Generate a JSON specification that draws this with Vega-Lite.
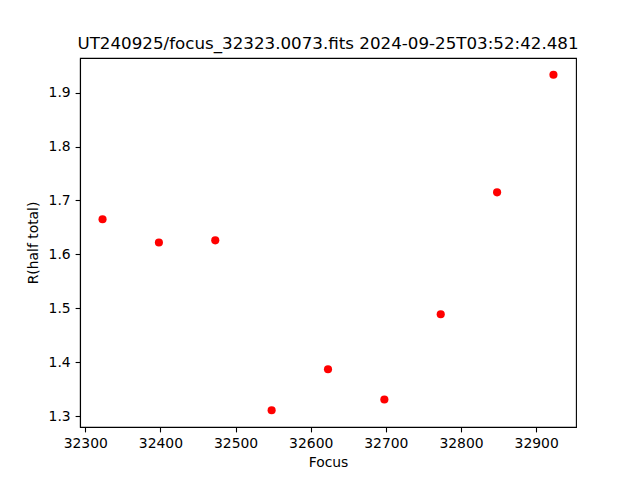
{
  "$schema": "https://vega.github.io/schema/vega-lite/v6.json",
  "autosize": "none",
  "width": 496,
  "height": 369,
  "padding": {"left": 80, "top": 58, "right": 64, "bottom": 53},
  "background": "white",
  "title": {
    "text": "UT240925/focus_32323.0073.fits 2024-09-25T03:52:42.481",
    "font": "DejaVu Sans",
    "fontSize": 16.7,
    "fontWeight": "normal",
    "color": "black",
    "anchor": "middle",
    "frame": "group",
    "offset": 5
  },
  "config": {
    "view": {"stroke": "black", "strokeWidth": 1.1},
    "axis": {
      "grid": false,
      "domainColor": "black",
      "domainWidth": 1.1,
      "tickColor": "black",
      "tickWidth": 1.1,
      "tickSize": 4.9,
      "labelPadding": 4.9,
      "labelFont": "DejaVu Sans",
      "labelFontSize": 13.9,
      "labelColor": "black",
      "titleFont": "DejaVu Sans",
      "titleFontSize": 13.9,
      "titleFontWeight": "normal",
      "titleColor": "black"
    }
  },
  "data": {
    "values": [
      {"Focus": 32323, "R": 1.665},
      {"Focus": 32398, "R": 1.622},
      {"Focus": 32473, "R": 1.626},
      {"Focus": 32548, "R": 1.311},
      {"Focus": 32623, "R": 1.387},
      {"Focus": 32698, "R": 1.331},
      {"Focus": 32773, "R": 1.489},
      {"Focus": 32848, "R": 1.715},
      {"Focus": 32923, "R": 1.933}
    ]
  },
  "mark": {"type": "circle", "color": "#ff0000", "opacity": 1, "size": 66},
  "encoding": {
    "x": {
      "field": "Focus",
      "type": "quantitative",
      "scale": {"domain": [32293, 32953], "nice": false, "zero": false},
      "axis": {
        "title": "Focus",
        "values": [32300, 32400, 32500, 32600, 32700, 32800, 32900],
        "format": "d",
        "titlePadding": 5
      }
    },
    "y": {
      "field": "R",
      "type": "quantitative",
      "scale": {"domain": [1.2799, 1.9641], "nice": false, "zero": false},
      "axis": {
        "title": "R(half total)",
        "values": [1.3, 1.4, 1.5, 1.6, 1.7, 1.8, 1.9],
        "format": ".1f",
        "titlePadding": 8
      }
    }
  }
}
